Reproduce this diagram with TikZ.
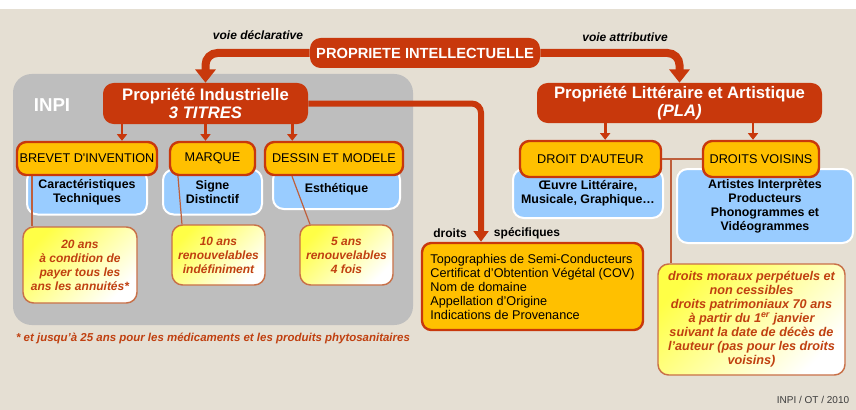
\documentclass[tikz,border=0pt]{standalone}
\usepackage{fontspec}
\setmainfont{Liberation Sans}
\usetikzlibrary{arrows.meta,positioning,calc}

\definecolor{bgbeige}{RGB}{229,223,211}
\definecolor{inpigrey}{RGB}{190,190,190}
\definecolor{pired}{RGB}{200,56,12}
\definecolor{boxorange}{RGB}{255,192,0}
\definecolor{skyblue}{RGB}{153,204,255}
\definecolor{notered}{RGB}{192,64,16}
\definecolor{notebrown}{RGB}{200,112,72}
\definecolor{noteyellow}{RGB}{255,255,70}
\definecolor{linebrown}{RGB}{190,95,60}
\definecolor{creditgrey}{RGB}{60,60,60}

\begin{document}
\begin{tikzpicture}[x=0.75pt, y=-0.75pt,
  titlebox/.style={rectangle, rounded corners=8pt, fill=pired, text=white,
                align=center, inner sep=1pt,
                font=\fontsize{12.5}{14}\selectfont\bfseries},
  branch/.style={rectangle, draw=pired, line width=1.8pt, rounded corners=7pt,
                 fill=boxorange, text=black, align=center, inner sep=1pt,
                 font=\fontsize{9.5}{11}\selectfont},
  domainbox/.style={rectangle, draw=white, line width=1.5pt, rounded corners=8pt,
                 fill=skyblue, text=black, align=center, inner sep=1pt,
                 font=\fontsize{9.3}{10.5}\selectfont\bfseries},
  duree/.style={rectangle, draw=notebrown, line width=1.1pt, rounded corners=8pt,
                top color=noteyellow, bottom color=white, shading angle=45,
                text=notered, align=center, inner sep=1pt,
                font=\fontsize{9}{10.5}\selectfont\bfseries\itshape},
  voie/.style={text=black, font=\fontsize{9}{10}\selectfont\bfseries\itshape},
  bigarrow/.style={draw=pired, line width=6pt, rounded corners=9pt,
                   -{Triangle[width=15pt,length=10pt]}},
  midarrow/.style={draw=pired, line width=4.5pt, rounded corners=7pt,
                   -{Triangle[width=11pt,length=8pt]}},
  arrow/.style={draw=pired, line width=2.2pt, -{Triangle[width=7.5pt,length=5pt]}},
  link/.style={draw=linebrown, line width=0.9pt}
]
  \useasboundingbox (0,0) rectangle (856,410);
  \fill[white] (0,0) rectangle (856,9);
  \fill[bgbeige] (0,9) rectangle (856,410);

  % INPI area
  \fill[inpigrey, rounded corners=14pt] (13,74) rectangle (413,325);
  \node[text=white, font=\fontsize{14}{16}\selectfont\bfseries] (inpi) at (52,105) {INPI};

  % titles
  \node[titlebox, minimum width=172.5pt, minimum height=22.5pt,
        font=\fontsize{11}{13}\selectfont\bfseries] (PI) at (425,53) {PROPRIETE INTELLECTUELLE};
  \node[titlebox, minimum width=153.75pt, minimum height=30.75pt] (PInd) at (205.5,103.5)
       {Propriété Industrielle\\\itshape 3 TITRES};
  \node[titlebox, minimum width=213.75pt, minimum height=30pt] (PLA) at (679.5,103)
       {Propriété Littéraire et Artistique\\\itshape (PLA)};
  \node[voie] (declar) at (258,35) {voie déclarative};
  \node[voie] (attrib) at (625,37) {voie attributive};

  % domains (under the titles boxes)
  \node[domainbox, minimum width=90pt, minimum height=33.75pt] (carac) at (87,192)
       {Caractéristiques\\Techniques};
  \node[domainbox, minimum width=74.25pt, minimum height=33.75pt] (signe) at (212.5,192)
       {Signe\\Distinctif};
  \node[domainbox, minimum width=95.25pt, minimum height=30pt] (esth) at (336.5,189)
       {Esthétique};
  \node[domainbox, minimum width=112.5pt, minimum height=36.75pt] (oeuvre) at (588,193.5)
       {Œuvre Littéraire,\\Musicale, Graphique…};
  \node[domainbox, minimum width=132pt, minimum height=55.5pt] (artistes) at (765,206)
       {Artistes Interprètes\\Producteurs\\Phonogrammes et\\Vidéogrammes};

  % titres
  \node[branch, minimum width=105pt, minimum height=24.75pt] (brevet) at (87,158.5)
       {BREVET D\textquotesingle INVENTION};
  \node[branch, minimum width=63.75pt, minimum height=24.75pt] (marque) at (212.5,158.5)
       {MARQUE};
  \node[branch, minimum width=103.5pt, minimum height=24.75pt] (dessin) at (334,158.5)
       {DESSIN ET MODELE};
  \node[branch, minimum width=105.75pt, minimum height=27pt] (auteur) at (590.5,159)
       {DROIT D\textquotesingle AUTEUR};
  \node[branch, minimum width=87pt, minimum height=27pt] (voisins) at (761,159)
       {DROITS VOISINS};
  \node[branch, minimum width=165.75pt, minimum height=65.25pt, align=left,
        font=\fontsize{9.5}{10.5}\selectfont] (spec) at (532.5,286.5)
       {Topographies de Semi-Conducteurs\\Certificat d’Obtention Végétal (COV)\\Nom de domaine\\Appellation d’Origine\\Indications de Provenance};
  \node[text=black, font=\fontsize{9}{10.5}\selectfont\bfseries] (droits) at (450,233) {droits};
  \node[text=black, font=\fontsize{9}{10.5}\selectfont\bfseries] (specif) at (527,233) {spécifiques};

  % durations
  \node[duree, minimum width=85.5pt, minimum height=57pt] (duree20) at (80,265)
       {20 ans\\à condition de\\payer tous les\\ans les annuités*};
  \node[duree, minimum width=69.75pt, minimum height=45pt] (duree10) at (218.5,255)
       {10 ans\\renouvelables\\indéfiniment};
  \node[duree, minimum width=69.75pt, minimum height=45pt] (duree5) at (346.5,255)
       {5 ans\\renouvelables\\4 fois};
  \node[duree, minimum width=140.25pt, minimum height=83.25pt,
        font=\fontsize{9.5}{10.5}\selectfont\bfseries\itshape] (dureePLA) at (751.5,319.5)
       {droits moraux perpétuels et\\non cessibles\\droits patrimoniaux 70 ans\\à partir du 1\textsuperscript{er} janvier\\suivant la date de décès de\\l’auteur (pas pour les droits\\voisins)};

  \node[text=notered, font=\fontsize{8.6}{10}\selectfont\bfseries\itshape] (footnote) at (213,338)
       {* et jusqu’à 25 ans pour les médicaments et les produits phytosanitaires};
  \node[text=creditgrey, font=\fontsize{7.5}{9}\selectfont] (credit) at (813,400) {INPI / OT / 2010};

  % arrows
  \draw[bigarrow] (PI.west) -| (PInd.north);
  \draw[bigarrow] (PI.east) -| (PLA.north);
  \draw[midarrow] (PInd.east) -| ([xshift=-38.6pt]spec.north);
  \draw[arrow] ([xshift=26.25pt]brevet.north |- PInd.south) -- ([xshift=26.25pt]brevet.north);
  \draw[arrow] (PInd.south) -- (PInd.south |- marque.north);
  \draw[arrow] ([xshift=-12pt]PInd.south east) -- ([xshift=-12pt]PInd.south east |- dessin.north);
  \draw[arrow] ([xshift=11pt]auteur.north |- PLA.south) -- ([xshift=11pt]auteur.north);
  \draw[arrow] ([xshift=-6pt]voisins.north |- PLA.south) -- ([xshift=-6pt]voisins.north);

  % links to durations
  \draw[link] ([xshift=-41.25pt]brevet.south) -- ([xshift=-41.25pt]brevet.south |- duree20.north);
  \draw[link] ([xshift=-25.9pt]marque.south) -- ([xshift=-27.4pt]duree10.north);
  \draw[link] ([xshift=-31.5pt]dessin.south) -- ([xshift=-27.4pt]duree5.north);
  \draw[link] (auteur.east) -- (voisins.west);
  \draw[link] ([xshift=-60.4pt]dureePLA.north |- auteur.east) -- ([xshift=-60.4pt]dureePLA.north);
\end{tikzpicture}
\end{document}
